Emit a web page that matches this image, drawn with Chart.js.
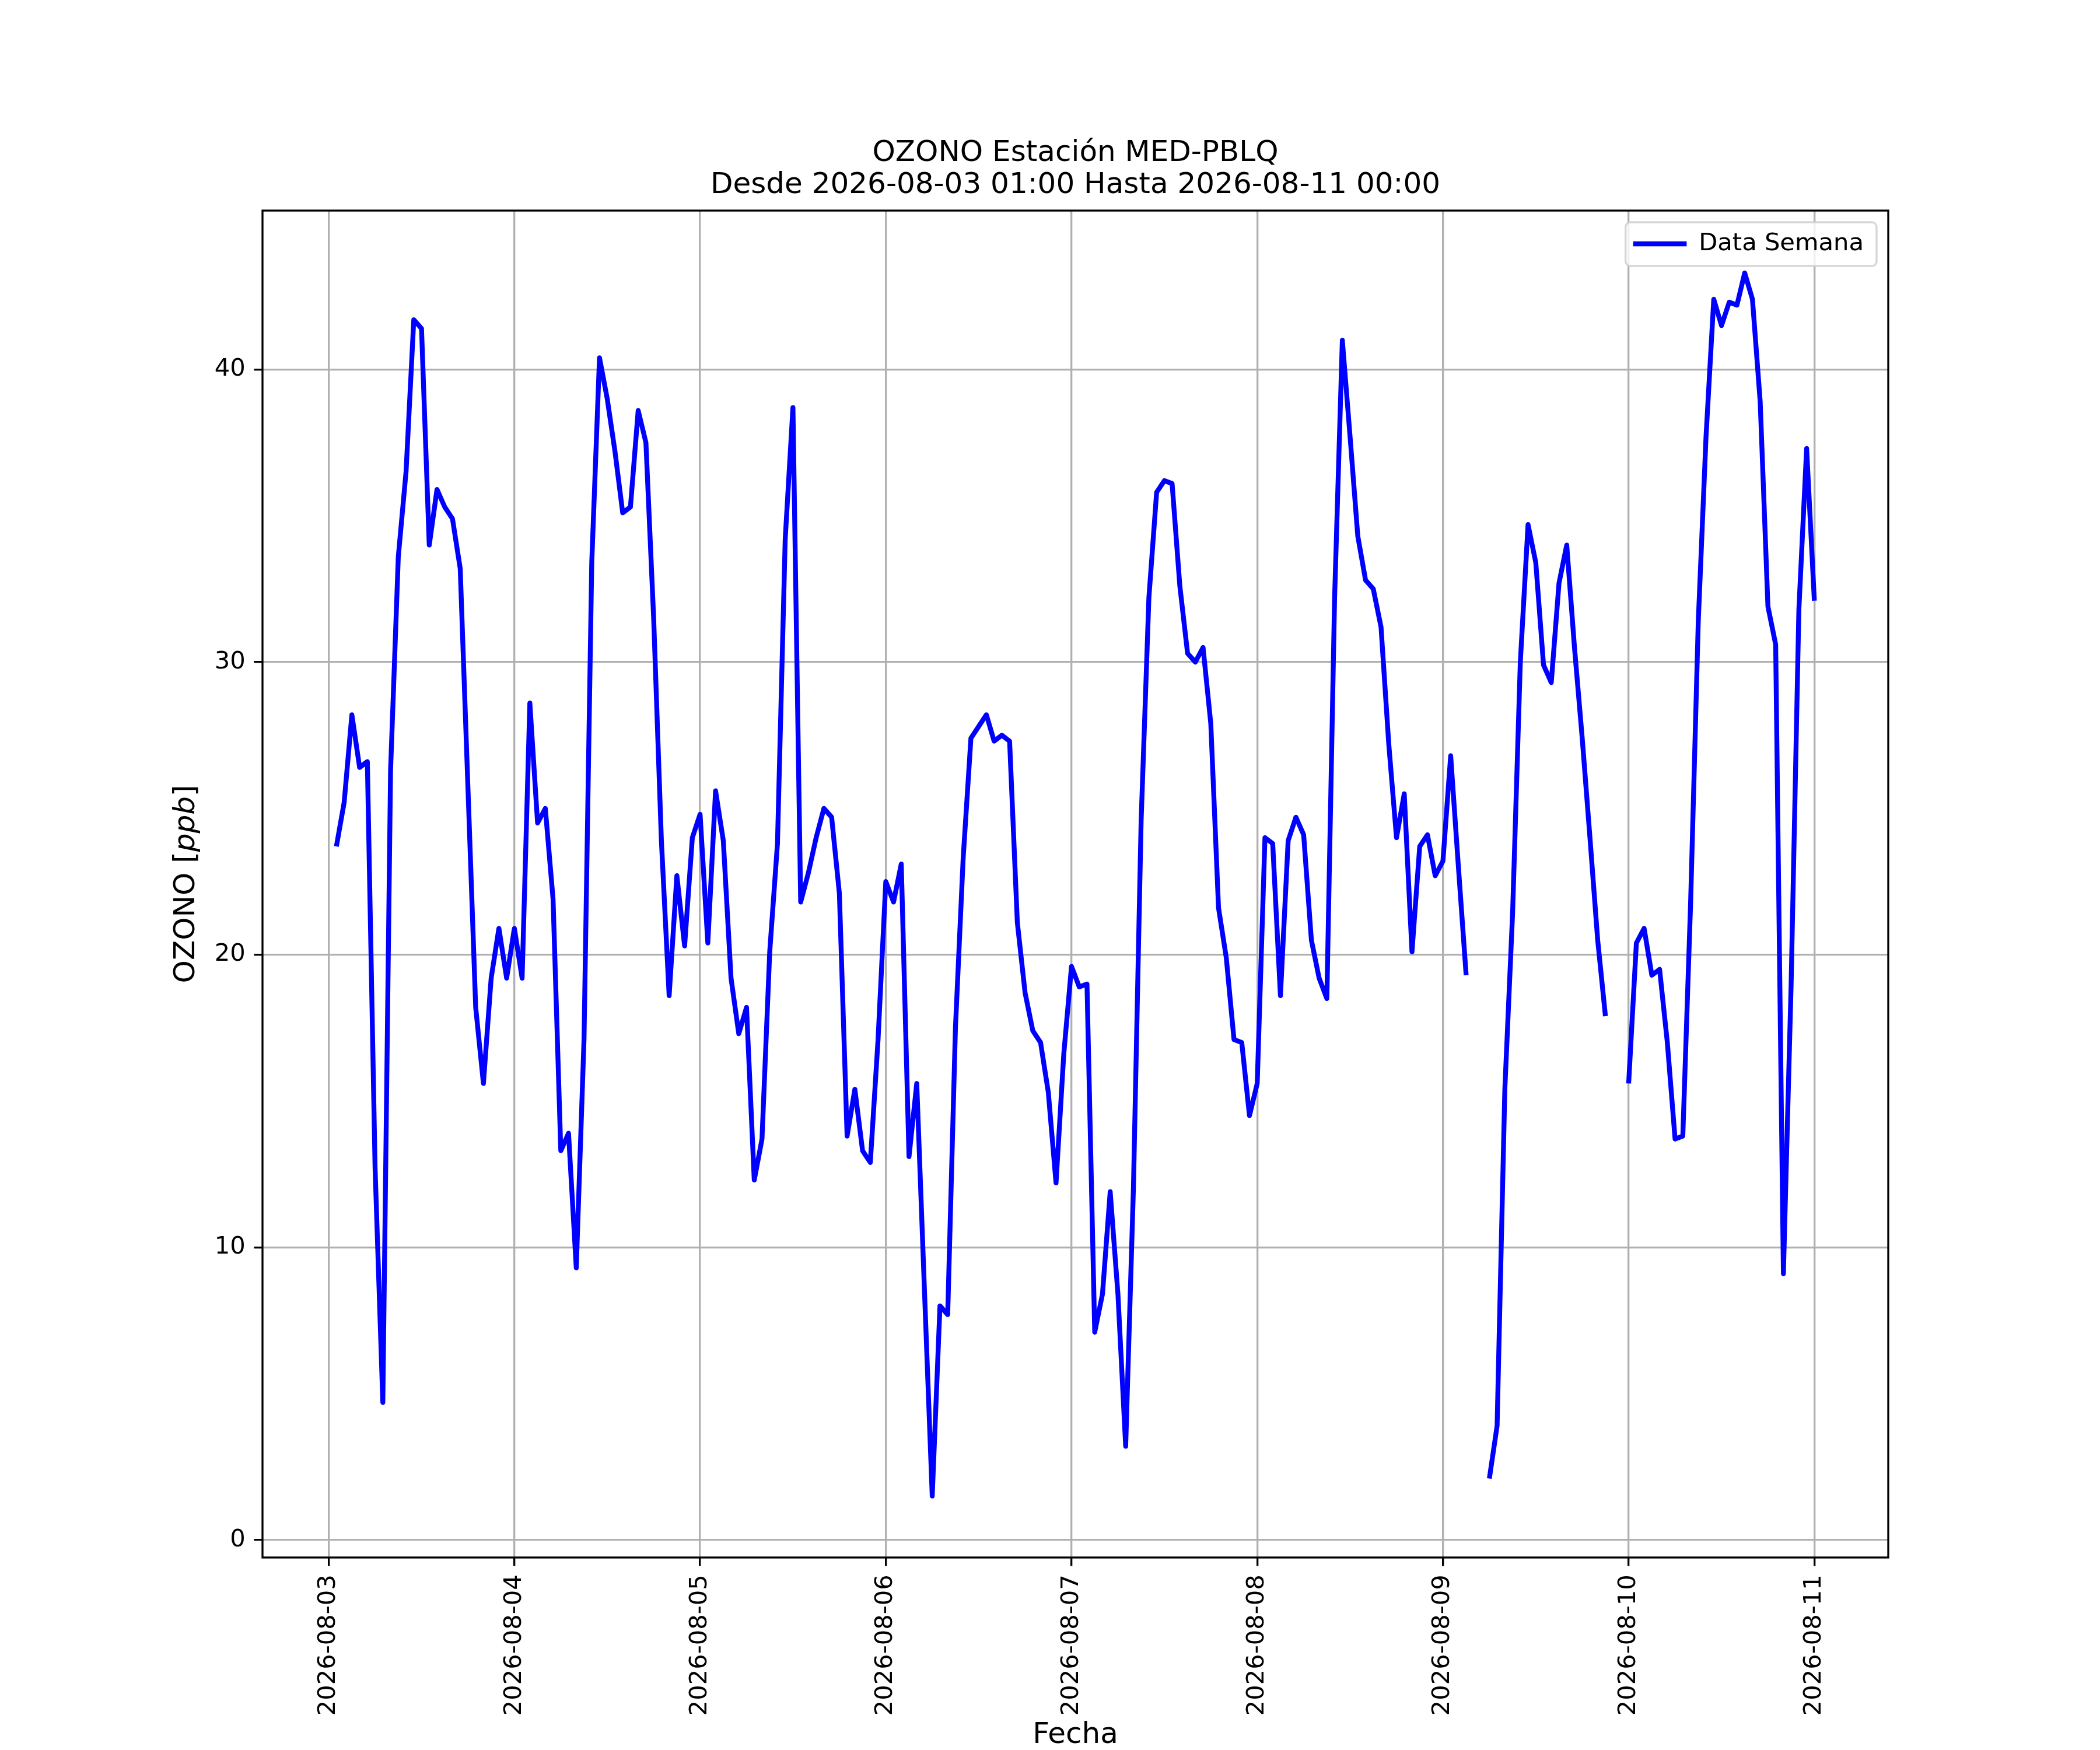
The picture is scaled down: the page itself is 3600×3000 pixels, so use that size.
<!DOCTYPE html>
<html>
<head>
<meta charset="utf-8">
<script src="https://cdn.jsdelivr.net/npm/chart.js@4.4.1/dist/chart.umd.min.js"></script>
<style>
  html, body { margin: 0; padding: 0; background: #fff; }
  canvas { display: block; }
</style>
</head>
<body>
<canvas id="ozonoChart" width="3600" height="3000" style="width:3600px;height:3000px"></canvas>
<script>
// Ozono horario MED-PBLQ (null = sin dato)
// cada dia va de la 01:00 hasta las 00:00 del dia siguiente
const dia0803 = [23.7, 25.2, 28.2, 26.4, 26.6, 12.7, 4.7, 26.3, 33.6, 36.5, 41.7, 41.4, 34.0, 35.9, 35.3, 34.9, 33.2, 25.7, 18.2, 15.6, 19.2, 20.9, 19.2, 20.9];
const dia0804 = [19.2, 28.6, 24.5, 25.0, 21.9, 13.3, 13.9, 9.3, 17.1, 33.4, 40.4, 39.0, 37.2, 35.1, 35.3, 38.6, 37.5, 31.5, 23.9, 18.6, 22.7, 20.3, 24.0, 24.8];
const dia0805 = [20.4, 25.6, 23.9, 19.2, 17.3, 18.2, 12.3, 13.7, 20.1, 23.8, 34.2, 38.7, 21.8, 22.8, 24.0, 25.0, 24.7, 22.1, 13.8, 15.4, 13.3, 12.9, 17.1, 22.5];
const dia0806 = [21.8, 23.1, 13.1, 15.6, 8.5, 1.5, 8.0, 7.7, 17.5, 23.3, 27.4, 27.8, 28.2, 27.3, 27.5, 27.3, 21.1, 18.7, 17.4, 17.0, 15.3, 12.2, 16.6, 19.6];
const dia0807 = [18.9, 19.0, 7.1, 8.4, 11.9, 8.4, 3.2, 12.0, 24.6, 32.2, 35.8, 36.2, 36.1, 32.6, 30.3, 30.0, 30.5, 27.9, 21.6, 19.9, 17.1, 17.0, 14.5, 15.6];
const dia0808 = [24.0, 23.8, 18.6, 23.9, 24.7, 24.1, 20.5, 19.2, 18.5, 32.2, 41.0, 37.7, 34.3, 32.8, 32.5, 31.2, 27.2, 24.0, 25.5, 20.1, 23.7, 24.1, 22.7, 23.2];
const dia0809 = [26.8, 23.0, 19.3, null, null, 2.1, 3.9, 15.4, 21.4, 30.0, 34.7, 33.4, 29.9, 29.3, 32.7, 34.0, 30.5, 27.4, 24.0, 20.5, 17.9, null, null, 15.6];
const dia0810 = [20.4, 20.9, 19.3, 19.5, 17.0, 13.7, 13.8, 21.7, 31.4, 37.7, 42.4, 41.5, 42.3, 42.2, 43.3, 42.4, 38.9, 31.9, 30.6, 9.1, 19.0, 31.8, 37.3, 32.1];

const dayLabels = ['2026-08-03', '2026-08-04', '2026-08-05', '2026-08-06', '2026-08-07', '2026-08-08', '2026-08-09', '2026-08-10', '2026-08-11'];
const yTicks = [0, 10, 20, 30, 40];
const titleLines = ['OZONO Estación MED-PBLQ', 'Desde 2026-08-03 01:00 Hasta 2026-08-11 00:00'];

const ozono = [].concat(dia0803, dia0804, dia0805, dia0806, dia0807, dia0808, dia0809, dia0810);
// x = horas desde 2026-08-03 00:00
const puntos = ozono.map((v, i) => ({ x: i + 1, y: v }));
const dayTicks = dayLabels.map((d, i) => i * 24);

const PT = 300 / 72;          // figura de 12x10 in a 300 dpi
const FS = 10 * PT;

Chart.defaults.font.family = "'DejaVu Sans', sans-serif";
Chart.defaults.color = '#000';

// marco de los ejes + caja de la leyenda (estilo matplotlib)
const marco = {
  id: 'marco',
  afterLayout(chart) {
    const lg = chart.legend, ca = chart.chartArea;
    const ctx = chart.ctx;
    ctx.save();
    ctx.font = FS + "px 'DejaVu Sans'";
    const tw = ctx.measureText('Data Semana').width;
    ctx.restore();
    const fw = 13 + 2.2 * FS + FS / 2 + tw + 22;
    const fl = ca.right - 20 - fw;
    const ft = ca.top + 20;
    lg._frame = { x: fl, y: ft, w: fw, h: 75 };
    lg.left = fl + 13 - 10;
    lg.top = ft + 37 - FS / 2 - 10;
  },
  afterDatasetsDraw(chart) {
    const ctx = chart.ctx, ca = chart.chartArea;
    ctx.save();
    ctx.strokeStyle = '#000';
    ctx.lineWidth = 0.8 * PT;
    ctx.strokeRect(ca.left, ca.top, ca.right - ca.left, ca.bottom - ca.top);
    const f = chart.legend._frame;
    if (f) {
      ctx.beginPath();
      ctx.roundRect(f.x, f.y, f.w, f.h, 8);
      ctx.fillStyle = 'rgba(255,255,255,0.8)';
      ctx.fill();
      ctx.strokeStyle = 'rgba(204,204,204,0.8)';
      ctx.lineWidth = 0.8 * PT;
      ctx.stroke();
    }
    ctx.restore();
    chart.legend.draw();
  },
  afterDraw(chart) {
    // titulo del eje y con "ppb" en cursiva
    const ctx = chart.ctx, ca = chart.chartArea;
    const size = 12 * PT;
    const partes = [['OZONO [', ''], ['ppb', 'italic '], [']', '']];
    ctx.save();
    ctx.translate(ca.left - 130, (ca.top + ca.bottom) / 2);
    ctx.rotate(-Math.PI / 2);
    ctx.fillStyle = '#000';
    ctx.textBaseline = 'middle';
    ctx.textAlign = 'left';
    let total = 0;
    partes.forEach(p => { ctx.font = p[1] + size + "px 'DejaVu Sans'"; total += ctx.measureText(p[0]).width; });
    let x = -total / 2;
    partes.forEach(p => {
      ctx.font = p[1] + size + "px 'DejaVu Sans'";
      ctx.fillText(p[0], x, 0);
      x += ctx.measureText(p[0]).width;
    });
    ctx.restore();
  }
};

const ctx = document.getElementById('ozonoChart').getContext('2d');
const ozonoChart = new Chart(ctx, {
  type: 'line',
  data: {
    datasets: [{
      label: 'Data Semana',
      data: puntos,
      borderColor: '#0000ff',
      backgroundColor: '#0000ff',
      borderWidth: 2 * PT,
      pointRadius: 0,
      tension: 0,
      spanGaps: false,
      fill: false,
      borderJoinStyle: 'round',
      borderCapStyle: 'butt'
    }]
  },
  options: {
    responsive: false,
    animation: false,
    devicePixelRatio: 1,
    layout: { padding: { left: 0, top: 0, right: 363, bottom: 0 } },
    scales: {
      x: {
        type: 'linear',
        min: -8.55,
        max: 201.55,
        afterBuildTicks: s => { s.ticks = dayTicks.map(v => ({ value: v })); },
        afterFit: s => { s.height = 330; },
        ticks: {
          autoSkip: false,
          minRotation: 90,
          maxRotation: 90,
          padding: 3.5 * PT,
          font: { size: FS },
          color: '#000',
          callback: (v, i) => dayLabels[i]
        },
        grid: { color: '#b0b0b0', lineWidth: 0.8 * PT, tickColor: '#000', tickWidth: 0.8 * PT, tickLength: 3.5 * PT },
        border: { display: false },
        title: { display: true, text: 'Fecha', color: '#000', font: { size: 12 * PT, lineHeight: 1 }, padding: { top: 0, bottom: 0 } }
      },
      y: {
        min: -0.6,
        max: 45.43,
        afterBuildTicks: s => { s.ticks = yTicks.map(v => ({ value: v })); },
        afterFit: s => { s.width = 450; },
        ticks: { padding: 3.5 * PT, font: { size: FS }, color: '#000' },
        grid: { color: '#b0b0b0', lineWidth: 0.8 * PT, tickColor: '#000', tickWidth: 0.8 * PT, tickLength: 3.5 * PT },
        border: { display: false }
      }
    },
    plugins: {
      title: {
        display: true,
        fullSize: false,
        text: titleLines,
        color: '#000',
        font: { size: 12 * PT, weight: 'normal', lineHeight: 1.1 },
        padding: { top: 235.5, bottom: 15.5 }
      },
      legend: {
        position: 'chartArea',
        align: 'start',
        labels: {
          usePointStyle: true,
          pointStyle: 'line',
          pointStyleWidth: 2.2 * FS,
          boxHeight: FS,
          padding: 10,
          color: '#000',
          font: { size: FS }
        }
      },
      tooltip: { enabled: false }
    }
  },
  plugins: [marco]
});
</script>
</body>
</html>
